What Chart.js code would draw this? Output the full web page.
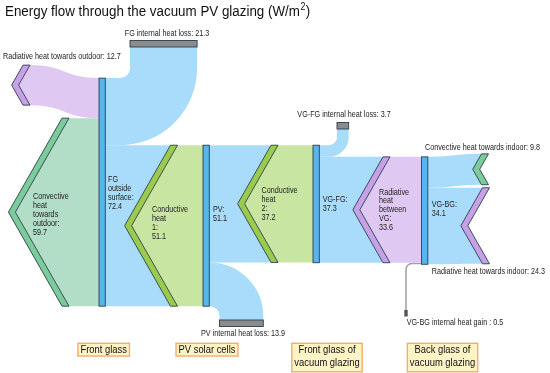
<!DOCTYPE html>
<html>
<head>
<meta charset="utf-8">
<script src="https://cdn.jsdelivr.net/npm/chart.js@4.4.1/dist/chart.umd.min.js"></script>
<style>
  body { margin: 0; background: #fff; }
  #wrap { width: 550px; height: 373px; }
</style>
</head>
<body>
<div id="wrap"><canvas id="chart"></canvas></div>
<script>
// values in W/m2
const nodeNames = ['FG outside surface', 'PV', 'VG-FG', 'VG-BG'];
const nodeValues = [72.4, 51.1, 37.3, 34.1];

const flowNames = [
  'Radiative heat towards outdoor',
  'Convective heat towards outdoor',
  'FG internal heat loss',
  'Conductive heat 1',
  'PV internal heat loss',
  'Conductive heat 2',
  'VG-FG internal heat loss',
  'Radiative heat between VG',
  'VG-BG internal heat gain ',
  'Convective heat towards indoor',
  'Radiative heat towards indoor'
];
const flowValues = [12.7, 59.7, 21.3, 51.1, 13.9, 37.2, 3.7, 33.6, 0.5, 9.8, 24.3];

const layerLabels = [
  ['Front glass'],
  ['PV solar cells'],
  ['Front glass of', 'vacuum glazing'],
  ['Back glass of', 'vacuum glazing']
];

const titleText = 'Energy flow through the vacuum PV glazing (W/m';

// colours
const C = {
  node: '#58b5ec',
  edge: '#2c3e4c',
  blue: '#a8dcfa',
  purple: '#dfc9f2',
  purpleDark: '#c6a1e8',
  conv: '#b2dec7',
  convDark: '#7ccb9a',
  cond: '#c9e5a2',
  condDark: '#9bcb4d',
  gray: '#8c8c8c',
  text: '#222'
};
const FONT = '"Liberation Sans", Arial, sans-serif';
const SLOPE = 0.57;   // chevron tip offset per half height
const CHEV_W = 7;
const SQUEEZE = 0.88; // text in the picture is a bit narrow

function label(v) { return v.toFixed(1); }

const sankeyPlugin = {
  id: 'sankey',
  afterDraw(chart) {
    const ctx = chart.ctx;
    const xs = chart.scales.x, ys = chart.scales.y;
    const X = p => xs.getPixelForValue(p);
    const Y = v => ys.getPixelForValue(v);
    const T = v => ys.getPixelForValue(v) - ys.getPixelForValue(0);
    const fv = flowValues, nv = nodeValues;

    // stacking (value units from the top)
    const t0 = 24.8;
    const t1 = t0 + fv[2];
    const t2 = t1 + fv[6];

    const nodeX = [X(99), X(203), X(313), X(421.5)];
    const nodeW = 6.3;
    const nodeTop = [t0, t1, t1, t2];

    function band(xL, aL, bL, xR, aR, bR, notchL, notchR, color) {
      const mx = (xL + xR) / 2;
      ctx.beginPath();
      ctx.moveTo(xL, aL);
      ctx.bezierCurveTo(mx, aL, mx, aR, xR, aR);
      if (notchR) ctx.lineTo(xR - SLOPE * (bR - aR) / 2, (aR + bR) / 2);
      ctx.lineTo(xR, bR);
      ctx.bezierCurveTo(mx, bR, mx, bL, xL, bL);
      if (notchL) ctx.lineTo(xL - SLOPE * (bL - aL) / 2, (aL + bL) / 2);
      ctx.closePath();
      ctx.fillStyle = color;
      ctx.fill();
    }

    function chevron(xa, a, b, color) {
      const tip = xa - SLOPE * (b - a) / 2, mid = (a + b) / 2;
      ctx.beginPath();
      ctx.moveTo(xa, a);
      ctx.lineTo(tip, mid);
      ctx.lineTo(xa, b);
      ctx.lineTo(xa + CHEV_W, b);
      ctx.lineTo(tip + CHEV_W, mid);
      ctx.lineTo(xa + CHEV_W, a);
      ctx.closePath();
      ctx.fillStyle = color;
      ctx.fill();
      ctx.lineWidth = 0.9;
      ctx.strokeStyle = C.edge;
      ctx.stroke();
    }

    function turn(x0, yc, cx, yEnd, r, th, color) {
      ctx.beginPath();
      ctx.moveTo(x0, yc);
      ctx.arcTo(cx, yc, cx, yEnd, r);
      ctx.lineTo(cx, yEnd);
      ctx.lineWidth = th;
      ctx.lineCap = 'butt';
      ctx.strokeStyle = color;
      ctx.stroke();
    }

    function box(x0, y0, w, h, color) {
      ctx.fillStyle = color;
      ctx.fillRect(x0, y0, w, h);
      ctx.lineWidth = 0.9;
      ctx.strokeStyle = C.edge;
      ctx.strokeRect(x0, y0, w, h);
    }

    function text(str, x0, y0, align) {
      ctx.save();
      ctx.translate(x0, y0);
      ctx.scale(SQUEEZE, 1);
      ctx.textAlign = align || 'left';
      ctx.fillText(str, 0, 0);
      ctx.restore();
    }
    function textWidth(str) { return ctx.measureText(str).width * SQUEEZE; }

    ctx.save();

    // ---- loss / gain turns
    let a = Y(t0), th = T(fv[2]);
    turn(nodeX[0] + nodeW, a + th / 2, X(130) + th / 2, X(47), 10 + th / 2, th, C.blue);
    box(X(130), 40.5, th, 6.5, C.gray);

    a = Y(t1 + fv[5]); th = T(fv[4]);
    turn(nodeX[1] + nodeW, a + th / 2, X(219.5) + th / 2, 320, 10 + th / 2, th, C.blue);
    box(X(219.5), 320, th, 6.5, C.gray);

    a = Y(t1); th = T(fv[6]);
    turn(nodeX[2] + nodeW, a + th / 2, X(337) + th / 2, 129, 8 + th / 2, th, C.blue);
    box(X(337), 122.5, th, 6.5, C.gray);

    a = Y(t2 + fv[7]); th = T(fv[8]);
    turn(nodeX[3], a + th / 2, X(406), 311, 6, th, '#a3a3a3');
    ctx.fillStyle = '#555';
    ctx.fillRect(X(404.3), 310, 3.4, 6.5);

    // ---- outdoor flows (left of FG)
    let a0 = Y(t0), b0 = Y(t0 + fv[0]);
    band(X(23) + CHEV_W, a0 - 13, b0 - 13, nodeX[0], a0, b0, true, false, C.purple);
    chevron(X(23), a0 - 13, b0 - 13, C.purpleDark);

    a0 = Y(t0 + fv[0]); b0 = Y(t0 + fv[0] + fv[1]);
    band(X(62) + CHEV_W, a0, b0, nodeX[0], a0, b0, true, false, C.conv);
    chevron(X(62), a0, b0, C.convDark);

    // ---- conductive heat 1 : FG -> PV
    a0 = Y(t0 + fv[2]); b0 = Y(t0 + fv[2] + fv[3]);
    band(nodeX[0] + nodeW, a0, b0, X(170.5), a0, b0, false, true, C.blue);
    band(X(170.5) + CHEV_W, a0, b0, nodeX[1], a0, b0, true, false, C.cond);
    chevron(X(170.5), a0, b0, C.condDark);

    // ---- conductive heat 2 : PV -> VG-FG
    a0 = Y(t1); b0 = Y(t1 + fv[5]);
    band(nodeX[1] + nodeW, a0, b0, X(271), a0, b0, false, true, C.blue);
    band(X(271) + CHEV_W, a0, b0, nodeX[2], a0, b0, true, false, C.cond);
    chevron(X(271), a0, b0, C.condDark);

    // ---- radiative heat between VG : VG-FG -> VG-BG
    a0 = Y(t1 + fv[6]); b0 = Y(t1 + fv[6] + fv[7]);
    band(nodeX[2] + nodeW, a0, b0, X(383), a0, b0, false, true, C.blue);
    band(X(383) + CHEV_W, a0, b0, nodeX[3], a0, b0, true, false, C.purple);
    chevron(X(383), a0, b0, C.purpleDark);

    // ---- indoor flows (right of VG-BG)
    a0 = Y(t2); b0 = Y(t2 + fv[9]);
    band(nodeX[3] + nodeW, a0, b0, X(481.5), a0 - 3, b0 - 3, false, true, C.blue);
    chevron(X(481.5), a0 - 3, b0 - 3, C.convDark);

    a0 = Y(t2 + fv[9]); b0 = Y(t2 + fv[9] + fv[10]);
    band(nodeX[3] + nodeW, a0, b0, X(482.5), a0, b0 - 0.5, false, true, C.blue);
    chevron(X(482.5), a0, b0 - 0.5, C.purpleDark);

    // ---- nodes
    nodeValues.forEach((v, i) => {
      box(nodeX[i], Y(nodeTop[i]), nodeW, T(v), C.node);
    });

    // ---- texts
    ctx.fillStyle = C.text;
    ctx.textBaseline = 'middle';
    ctx.font = '8.2px ' + FONT;

    function lines(name, value, x0, y0) {
      const words = (name + ':').split(' ');
      words.push(label(value));
      words.forEach((w, i) => text(w, x0, y0 + i * 8.9, 'left'));
    }
    function single(i, x0, y0, align) {
      text(flowNames[i] + ': ' + label(flowValues[i]), x0, y0, align);
    }

    lines(flowNames[1], fv[1], X(33), 197);
    lines(nodeNames[0], nv[0], X(108), 180);
    lines(flowNames[3], fv[3], X(152), 210);
    lines(nodeNames[1], nv[1], X(213), 210);
    lines(flowNames[5], fv[5], X(261.5), 191);
    lines(nodeNames[2], nv[2], X(322.7), 200);
    lines(flowNames[7], fv[7], X(379), 192.3);
    lines(nodeNames[3], nv[3], X(431.7), 205);

    single(0, X(3), 57, 'left');
    single(2, X(167), 34, 'center');
    single(6, X(344), 115, 'center');
    single(9, X(425), 147.7, 'left');
    single(10, X(431.7), 272, 'left');
    single(8, X(406.7), 322.7, 'left');
    single(4, X(243), 334, 'center');

    // ---- layer boxes
    const layerX = [103.7, 207, 327, 442.5];
    ctx.font = '10.7px ' + FONT;
    ctx.textBaseline = 'alphabetic';
    layerLabels.forEach((ls, i) => {
      const w = Math.max(...ls.map(s => textWidth(s))) + 5;
      const h = ls.length === 1 ? 12.7 : 28.5;
      const cx = X(layerX[i]);
      ctx.fillStyle = '#fdf4c6';
      ctx.fillRect(cx - w / 2, 343.3, w, h);
      ctx.lineWidth = 1.4;
      ctx.strokeStyle = '#f6ac6c';
      ctx.strokeRect(cx - w / 2, 343.3, w, h);
      ctx.fillStyle = '#111';
      ls.forEach((s, j) => text(s, cx, 353 + j * 12.5, 'center'));
    });

    // ---- title with superscript
    ctx.fillStyle = '#111';
    ctx.font = '15.2px ' + FONT;
    text(titleText, 5, 16.3, 'left');
    let tx = 5 + textWidth(titleText);
    ctx.font = '10px ' + FONT;
    text('2', tx + 0.5, 10.3, 'left');
    tx += textWidth('2') + 1;
    ctx.font = '15.2px ' + FONT;
    text(')', tx, 16.3, 'left');

    ctx.restore();
  }
};

new Chart(document.getElementById('chart'), {
  type: 'scatter',
  data: { datasets: [] },
  options: {
    responsive: true,
    maintainAspectRatio: false,
    animation: false,
    layout: { padding: 0 },
    plugins: { legend: { display: false }, tooltip: { enabled: false }, title: { display: false } },
    scales: {
      x: { type: 'linear', min: 0, max: 550, display: false },
      y: { type: 'linear', min: 0, max: 373 / 3.15, reverse: true, display: false }
    }
  },
  plugins: [sankeyPlugin]
});
</script>
</body>
</html>
